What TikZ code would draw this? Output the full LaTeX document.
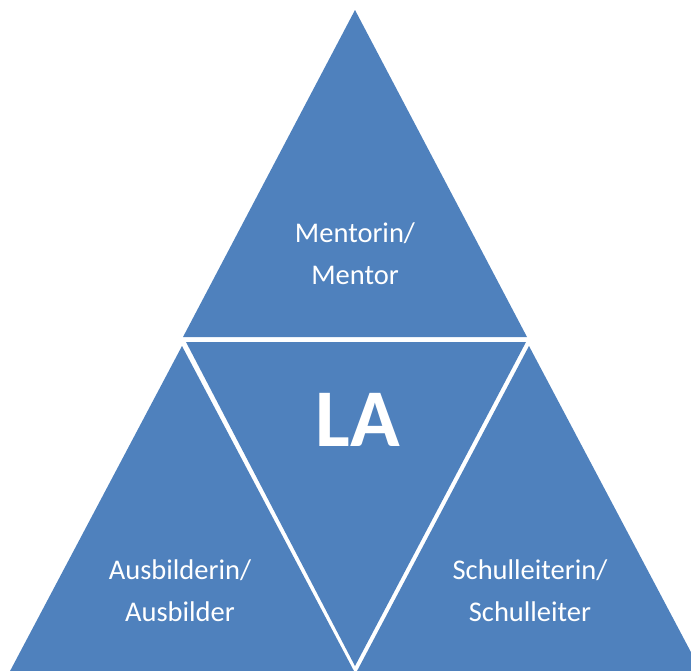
\documentclass[tikz,border=0pt]{standalone}
\usepackage{fontspec}
\setmainfont{Carlito}
\usetikzlibrary{calc}
\definecolor{Blau}{RGB}{79,129,189}
\tikzset{seg/.style={fill=Blau,draw=none},
  lbl/.style={text=white,align=center,font=\fontsize{28.5}{42}\selectfont}}

\begin{document}
\begin{tikzpicture}[x=1pt,y=-1pt]
  \useasboundingbox (0,0) rectangle (691,670);
  \begin{scope}
    \clip (0,0) rectangle (691,670);
    % vier Segmente
    \fill[seg] (355,10)--(183,337)--(527,337)--cycle;
    \fill[seg] (186,342)--(526,342)--(355,666)--cycle;
    \fill[seg] (182,346)--(9,673)--(355,673)--cycle;
    \fill[seg] (529,346)--(356,673)--(702,673)--cycle;
  \end{scope}
  \node[lbl] (mentor) at (355,254) {Mentorin/\\Mentor};
  \node[text=white,font=\fontsize{82}{90}\selectfont\bfseries] (la) at (358,420) {LA};
  \node[lbl] (ausb) at (180,591) {Ausbilderin/\\Ausbilder};
  \node[lbl] (schul) at (530,591) {Schulleiterin/\\Schulleiter};
\end{tikzpicture}
\end{document}
